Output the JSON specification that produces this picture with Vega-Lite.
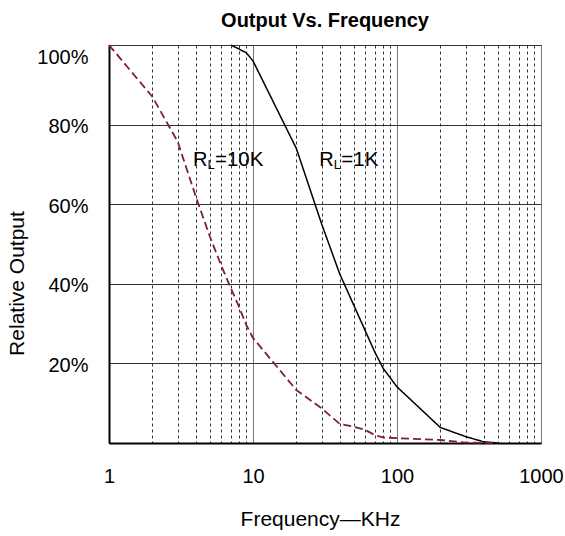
{
  "$schema": "https://vega.github.io/schema/vega-lite/v6.json",
  "autosize": "none",
  "width": 432,
  "height": 398,
  "padding": {"left": 109, "top": 45, "right": 24, "bottom": 93},
  "background": "white",
  "config": {
    "font": "Liberation Sans",
    "view": {"stroke": "#444", "strokeWidth": 1}
  },
  "title": {
    "text": "Output Vs. Frequency",
    "fontSize": 20,
    "fontWeight": "bold",
    "font": "Liberation Sans",
    "color": "black",
    "anchor": "middle",
    "frame": "group",
    "baseline": "alphabetic",
    "offset": 18,
    "dy": 24
  },
  "datasets": {
    "curves": [
      {"f": 7, "v": 1.0, "s": "1K"},
      {"f": 8, "v": 0.99, "s": "1K"},
      {"f": 9, "v": 0.98, "s": "1K"},
      {"f": 10, "v": 0.96, "s": "1K"},
      {"f": 20, "v": 0.74, "s": "1K"},
      {"f": 30, "v": 0.55, "s": "1K"},
      {"f": 40, "v": 0.425, "s": "1K"},
      {"f": 50, "v": 0.347, "s": "1K"},
      {"f": 60, "v": 0.283, "s": "1K"},
      {"f": 70, "v": 0.229, "s": "1K"},
      {"f": 80, "v": 0.188, "s": "1K"},
      {"f": 100, "v": 0.141, "s": "1K"},
      {"f": 200, "v": 0.039, "s": "1K"},
      {"f": 300, "v": 0.016, "s": "1K"},
      {"f": 400, "v": 0.003, "s": "1K"},
      {"f": 500, "v": 0.0, "s": "1K"},
      {"f": 1, "v": 1.0, "s": "10K"},
      {"f": 2, "v": 0.87, "s": "10K"},
      {"f": 3, "v": 0.757, "s": "10K"},
      {"f": 4, "v": 0.62, "s": "10K"},
      {"f": 5, "v": 0.52, "s": "10K"},
      {"f": 6, "v": 0.447, "s": "10K"},
      {"f": 7, "v": 0.39, "s": "10K"},
      {"f": 8, "v": 0.342, "s": "10K"},
      {"f": 9, "v": 0.296, "s": "10K"},
      {"f": 10, "v": 0.264, "s": "10K"},
      {"f": 20, "v": 0.133, "s": "10K"},
      {"f": 30, "v": 0.087, "s": "10K"},
      {"f": 40, "v": 0.048, "s": "10K"},
      {"f": 50, "v": 0.041, "s": "10K"},
      {"f": 60, "v": 0.033, "s": "10K"},
      {"f": 70, "v": 0.02, "s": "10K"},
      {"f": 80, "v": 0.014, "s": "10K"},
      {"f": 100, "v": 0.012, "s": "10K"},
      {"f": 200, "v": 0.0075, "s": "10K"},
      {"f": 300, "v": 0.001, "s": "10K"},
      {"f": 500, "v": 0.0, "s": "10K"}
    ],
    "labels": [
      {"f": 3.83, "v": 0.696, "rest": "=10K"},
      {"f": 28.9, "v": 0.696, "rest": "=1K"}
    ]
  },
  "layer": [
    {
      "data": {"name": "curves"},
      "mark": {"type": "line"},
      "encoding": {
        "x": {
          "field": "f",
          "type": "quantitative",
          "scale": {"type": "log", "domain": [1, 1000], "nice": false},
          "axis": {
            "title": "Frequency\u2014KHz",
            "titleFontSize": 21,
            "titleFontWeight": "normal",
            "titleColor": "black",
            "titleX": 211,
            "titleY": 82,
            "titleBaseline": "alphabetic",
            "titleAlign": "center",
            "values": [1, 2, 3, 4, 5, 6, 7, 8, 9, 10, 20, 30, 40, 50, 60, 70, 80, 90, 100, 200, 300, 400, 500, 600, 700, 800, 900, 1000],
            "labelExpr": "datum.value == 1 || datum.value == 10 || datum.value == 100 || datum.value == 1000 ? datum.label : ''",
            "format": "d",
            "labelOverlap": false,
            "labelFontSize": 20,
            "labelColor": "black",
            "labelPadding": 23,
            "labelFlush": false,
            "ticks": false,
            "tickSize": 0,
            "domainColor": "black",
            "domainWidth": 2,
            "grid": true,
            "gridColor": {"condition": {"test": "datum.value == 10 || datum.value == 100 || datum.value == 1000", "value": "#777"}, "value": "#333"},
            "gridDash": {"condition": {"test": "datum.value == 1 || datum.value == 10 || datum.value == 100 || datum.value == 1000", "value": []}, "value": [3, 3]},
            "gridWidth": 1,
            "gridOpacity": 1
          }
        },
        "y": {
          "field": "v",
          "type": "quantitative",
          "scale": {"domain": [0, 1], "nice": false},
          "axis": {
            "title": "Relative Output",
            "titleFontSize": 21,
            "titleFontWeight": "normal",
            "titleColor": "black",
            "titleAngle": -90,
            "titleX": -86,
            "titleY": 238,
            "titleBaseline": "alphabetic",
            "titleAlign": "center",
            "values": [0.2, 0.4, 0.6, 0.8, 1],
            "format": ".0%",
            "labelFontSize": 20,
            "labelColor": "black",
            "labelPadding": 21,
            "labelOffset": 2,
            "labelBaseline": {"condition": {"test": "datum.value == 1", "value": "top"}, "value": "middle"},
            "ticks": false,
            "tickSize": 0,
            "domainColor": "black",
            "domainWidth": 2,
            "grid": true,
            "gridColor": "#333",
            "gridWidth": 1,
            "gridOpacity": 1
          }
        },
        "color": {
          "field": "s",
          "type": "nominal",
          "scale": {"domain": ["1K", "10K"], "range": ["black", "#7d1c4a"]},
          "legend": null
        },
        "strokeDash": {
          "field": "s",
          "type": "nominal",
          "scale": {"domain": ["1K", "10K"], "range": [[1, 0], [8, 4]]},
          "legend": null
        },
        "strokeWidth": {
          "field": "s",
          "type": "nominal",
          "scale": {"domain": ["1K", "10K"], "range": [1.5, 1.8]},
          "legend": null
        }
      }
    },
    {
      "data": {"name": "labels"},
      "mark": {"type": "text", "text": "R", "align": "left", "baseline": "alphabetic", "fontSize": 20, "color": "black"},
      "encoding": {
        "x": {"field": "f", "type": "quantitative"},
        "y": {"field": "v", "type": "quantitative"}
      }
    },
    {
      "data": {"name": "labels"},
      "mark": {"type": "text", "text": "L", "align": "left", "baseline": "alphabetic", "fontSize": 13, "dx": 14.5, "dy": 3, "color": "black"},
      "encoding": {
        "x": {"field": "f", "type": "quantitative"},
        "y": {"field": "v", "type": "quantitative"}
      }
    },
    {
      "data": {"name": "labels"},
      "mark": {"type": "text", "align": "left", "baseline": "alphabetic", "fontSize": 20.5, "dx": 22, "color": "black"},
      "encoding": {
        "x": {"field": "f", "type": "quantitative"},
        "y": {"field": "v", "type": "quantitative"},
        "text": {"field": "rest"}
      }
    }
  ]
}
